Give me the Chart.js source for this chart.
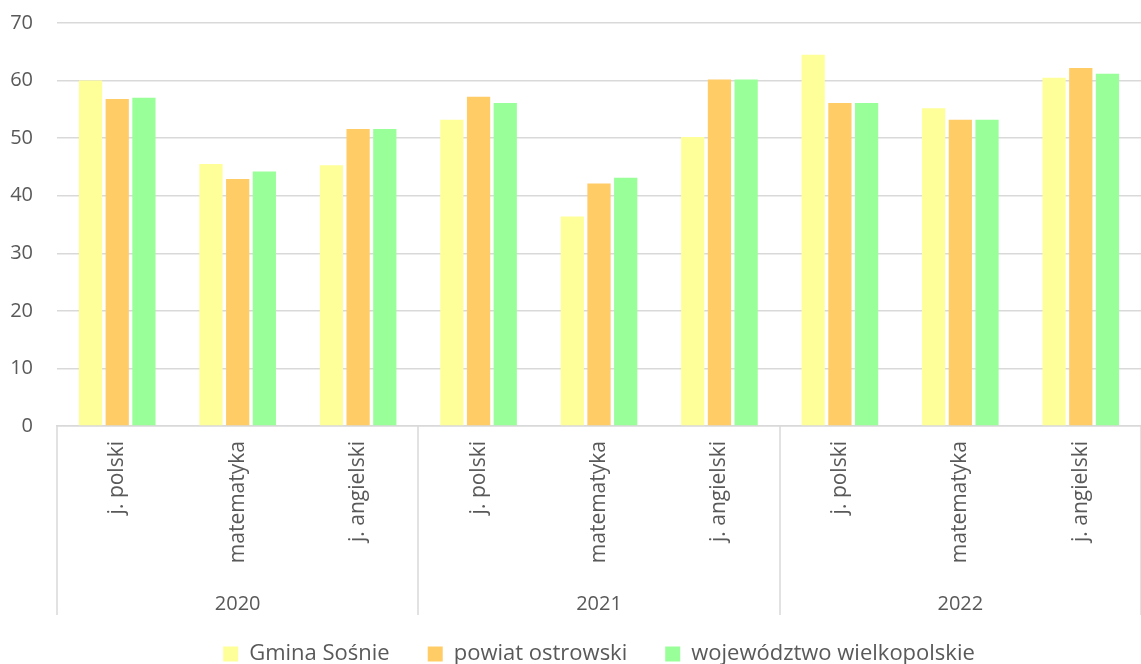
<!DOCTYPE html>
<html>
<head>
<meta charset="utf-8">
<script src="https://cdn.jsdelivr.net/npm/chart.js@4.4.1/dist/chart.umd.min.js"></script>
<style>
  html, body { margin: 0; padding: 0; background: #fff; }
  #wrap { width: 1141px; height: 664px; }
</style>
</head>
<body>
<div id="wrap"><canvas id="chart"></canvas></div>
<script>
// dane
const years = ['2020', '2021', '2022'];
const subjects = ['j. polski', 'matematyka', 'j. angielski'];
const categories = [
  'j. polski', 'matematyka', 'j. angielski',
  'j. polski', 'matematyka', 'j. angielski',
  'j. polski', 'matematyka', 'j. angielski'
];
const gmina  = [60.0, 45.5, 45.3, 53.2, 36.4, 50.2, 64.5, 55.2, 60.5];
const powiat = [56.8, 42.9, 51.6, 57.2, 42.1, 60.2, 56.1, 53.2, 62.2];
const woj    = [57.0, 44.2, 51.6, 56.1, 43.1, 60.2, 56.1, 53.2, 61.2];
const yTicks = [0, 10, 20, 30, 40, 50, 60, 70];

const textColor = '#595959';
const lineColor = '#d9d9d9';
const family = "'Open Sans', sans-serif";

// pionowe linie oddzielające lata pod osią X
const groupLines = {
  id: 'groupLines',
  afterDraw(chart) {
    const x = chart.scales.x;
    const ctx = chart.ctx;
    ctx.save();
    ctx.strokeStyle = lineColor;
    ctx.lineWidth = 1.5;
    for (let g = 0; g <= years.length; g++) {
      const px = Math.round(x.getPixelForValue(g * subjects.length - 0.5));
      ctx.beginPath();
      ctx.moveTo(px, x.top);
      ctx.lineTo(px, x.top + 189);
      ctx.stroke();
    }
    ctx.restore();
  }
};

new Chart(document.getElementById('chart'), {
  type: 'bar',
  data: {
    labels: categories,
    datasets: [
      { label: 'Gmina Sośnie', data: gmina, backgroundColor: '#FFFF99' },
      { label: 'powiat ostrowski', data: powiat, backgroundColor: '#FFCC66' },
      { label: 'województwo wielkopolskie', data: woj, backgroundColor: '#99FF99' }
    ]
  },
  options: {
    responsive: true,
    maintainAspectRatio: false,
    animation: false,
    datasets: { bar: { categoryPercentage: 0.665, barPercentage: 0.87 } },
    layout: { autoPadding: false, padding: { top: 23, right: 0, left: 0, bottom: -11 } },
    plugins: {
      tooltip: { enabled: false },
      legend: {
        position: 'bottom',
        fullSize: false,
        labels: {
          color: textColor,
          font: { family, size: 22 },
          boxWidth: 15,
          boxHeight: 15,
          padding: 38
        }
      }
    },
    scales: {
      y: {
        min: 0,
        max: 70,
        afterBuildTicks: (s) => { s.ticks = yTicks.map(v => ({ value: v })); },
        afterFit: (s) => { s.width = 57; },
        // niewidoczne kreski podziałki odsuwają etykiety od wykresu
        grid: { color: lineColor, lineWidth: 1.5, drawTicks: true, tickLength: 24, tickColor: 'transparent' },
        border: { display: false },
        ticks: { color: textColor, font: { family, size: 20 }, padding: 0 }
      },
      x: {
        afterFit: (s) => { s.height = 160; },
        grid: { display: false, drawTicks: false },
        border: { color: lineColor, width: 1.5 },
        ticks: {
          color: textColor,
          font: { family, size: 21 },
          minRotation: 90,
          maxRotation: 90,
          autoSkip: false,
          padding: 15
        }
      },
      x2: {
        type: 'category',
        labels: years,
        position: 'bottom',
        offset: true,
        weight: 1,
        afterFit: (s) => { s.height = 19; },
        grid: { display: false, drawTicks: false },
        border: { display: false },
        // mirror: etykiety lat nie są przycinane do wąskiego pasa osi
        ticks: { color: textColor, font: { family, size: 20 }, mirror: true, padding: -30 }
      }
    }
  },
  plugins: [groupLines]
});
</script>
</body>
</html>
